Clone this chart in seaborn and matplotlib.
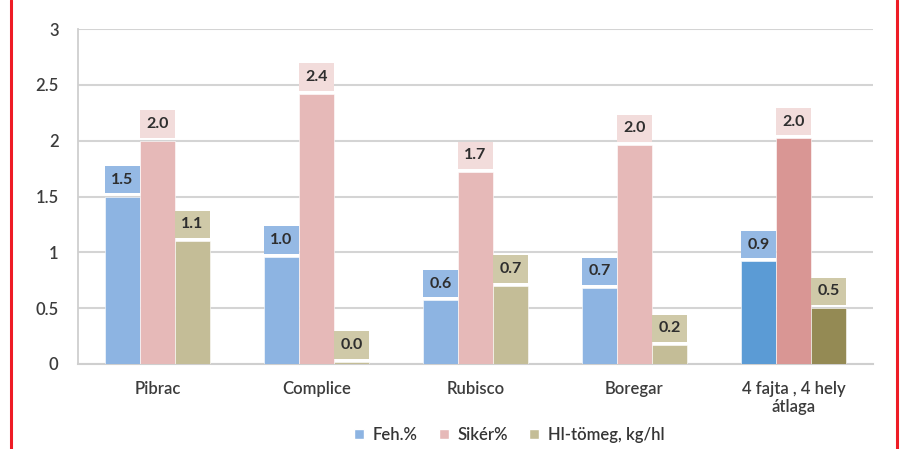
import matplotlib
matplotlib.use("Agg")
import matplotlib.pyplot as plt
import seaborn as sns
import pandas as pd
from matplotlib.lines import Line2D
from matplotlib.ticker import FuncFormatter

categories = ["Pibrac", "Complice", "Rubisco", "Boregar", "4 fajta , 4 hely\nátlaga"]
series = ["Feh.%", "Sikér%", "Hl-tömeg, kg/hl"]
feh = [1.50, 0.96, 0.57, 0.68, 0.92]
siker = [2.00, 2.42, 1.72, 1.96, 2.02]
hl = [1.10, 0.02, 0.70, 0.17, 0.50]

colors = ["#8DB4E2", "#E6B9B8", "#C4BD97"]
avg_colors = ["#5B9BD5", "#D99694", "#948A54"]
box_colors = ["#95B9E4", "#F2DCDB", "#CFC9A8"]

rows = []
for s, vals in zip(series, [feh, siker, hl]):
    for c, v in zip(categories, vals):
        rows.append({"cat": c, "series": s, "value": v})
df = pd.DataFrame(rows)

sns.set_style("white")
plt.rcParams["font.family"] = ["Lato", "DejaVu Sans"]

fig = plt.figure(figsize=(9.03, 4.49), dpi=100)
ax = fig.add_axes([78 / 903, 1 - 364 / 449, (873 - 78) / 903, (364 - 29) / 449])

sns.barplot(data=df, x="cat", y="value", hue="series", order=categories,
            hue_order=series, palette=colors, width=0.66, ax=ax,
            edgecolor="white", linewidth=0.4, saturation=1, legend=True, zorder=3)

for i, cont in enumerate(ax.containers):
    cont.patches[-1].set_facecolor(avg_colors[i])
    labels = ax.bar_label(cont, fmt="%.1f", padding=7, fontsize=11.5,
                          fontweight="bold", color="#2E2E2E", zorder=5)
    for t in labels:
        t.set_bbox(dict(boxstyle="square,pad=0.42", facecolor=box_colors[i],
                        edgecolor="none"))

ax.set_ylim(0, 3)
ax.set_yticks([0, 0.5, 1, 1.5, 2, 2.5, 3])
ax.yaxis.set_major_formatter(FuncFormatter(lambda v, p: f"{v:g}"))
ax.grid(axis="y", color="#D4D4D4", linewidth=1.5, zorder=0)
ax.set_axisbelow(True)
for side in ["top", "right"]:
    ax.spines[side].set_visible(False)
ax.spines["left"].set_color("#CFCFCF")
ax.spines["bottom"].set_color("#CFCFCF")
ax.spines["left"].set_linewidth(1.3)
ax.spines["bottom"].set_linewidth(1.5)
ax.tick_params(axis="both", length=0, labelsize=12, labelcolor="#3C3C3C")
ax.tick_params(axis="y", pad=14)
ax.tick_params(axis="x", pad=12)
for t in ax.get_xticklabels() + ax.get_yticklabels():
    t.set_fontweight("semibold")
ax.set_xlabel("")
ax.set_ylabel("")

handles = [plt.Rectangle((0, 0), 1, 1, facecolor=c) for c in colors]
ax.legend_.remove()
fig.legend(handles, series, loc="center", bbox_to_anchor=(509 / 903, 1 - 435 / 449),
           ncol=3, frameon=False, handlelength=0.6, handleheight=0.6,
           handletextpad=0.5, columnspacing=1.3, labelcolor="#353535",
           prop={"weight": "semibold", "size": 12})

fig.add_artist(Line2D([11.5 / 903, 11.5 / 903], [0, 1], color="#EE1C25", linewidth=2.2))
fig.add_artist(Line2D([897 / 903, 897 / 903], [0, 1], color="#EE1C25", linewidth=2.2))

fig.savefig("out.png", dpi=100)
